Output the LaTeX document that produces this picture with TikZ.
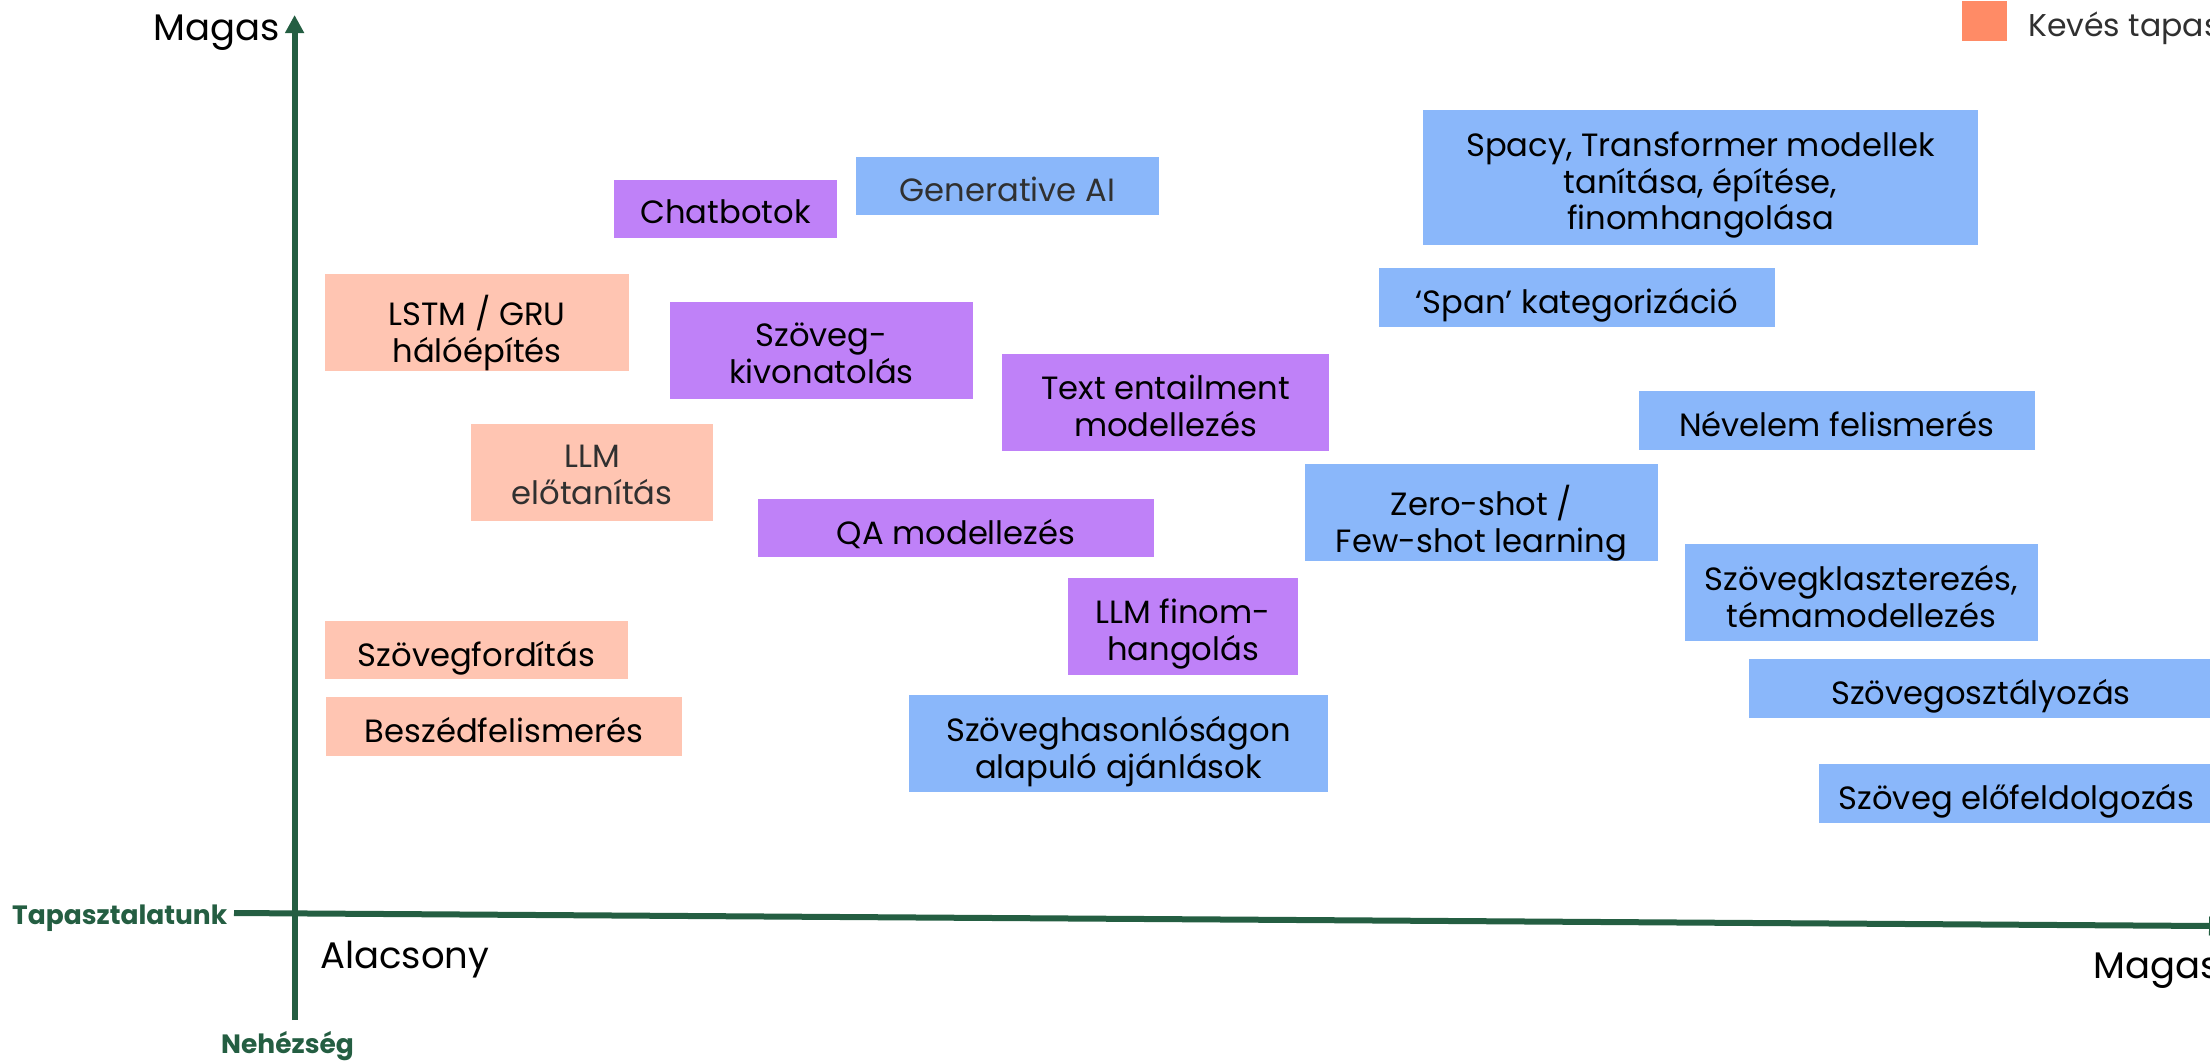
\documentclass[tikz,border=0pt]{standalone}
\usepackage{fontspec}
\setmainfont{Poppins}
\usetikzlibrary{arrows.meta}
\definecolor{cblue}{HTML}{8AB7FA}
\definecolor{cpurple}{HTML}{BF81F8}
\definecolor{csalmon}{HTML}{FFC5B2}
\definecolor{clegend}{HTML}{FF8B66}
\definecolor{cgreen}{HTML}{245E42}
\definecolor{cgray}{HTML}{303030}
\newcommand\boxtxt[2]{\setbox0=\vbox{\baselineskip=36.7pt\lineskiplimit=-100pt\lineskip=0pt\halign{\hfil##\hfil\cr#2\crcr}}\ht0=\dimexpr 36.7pt*\numexpr#1-1\relax+18pt\relax\dp0=0pt\box0}
\tikzset{
  card/.style={inner sep=0pt, outer sep=0pt, anchor=north west, text=black,
    font=\fontsize{32.2}{36.7}\selectfont},
  bluecard/.style={card, fill=cblue},
  purplecard/.style={card, fill=cpurple},
  salmoncard/.style={card, fill=csalmon},
  axislabel/.style={inner sep=0pt, text=black, font=\fontsize{37}{40}\selectfont},
  axisname/.style={inner sep=0pt, text=cgreen, font=\fontsize{26.5}{30}\selectfont\bfseries},
  axisline/.style={cgreen, line width=6pt, -{Triangle[width=18pt,length=18pt]}}
}
\begin{document}
\begin{tikzpicture}[x=1pt,y=-1pt]
\useasboundingbox (0,0) rectangle (2210,1061);
\clip (0,0) rectangle (2210,1061);
% axes
\coordinate (vbot) at (294.6,1020);
\coordinate (vtop) at (294.6,15);
\coordinate (hl) at (234,913);
\coordinate (hr) at (2227,926.1);
\draw[axisline] (vbot) -- (vtop);
\draw[axisline] (hl) -- (hr);
\node[axislabel, anchor=base east] (ytop) at (280,40) {Magas};
\node[axislabel, anchor=base west] (xlow) at (320,968) {Alacsony};
\node[axislabel, anchor=base west] (xhigh) at (2093,978) {Magas};
\node[axisname, anchor=base west] (xname) at (12,924) {Tapasztalatunk};
\node[axisname, anchor=base west] (yname) at (221,1053) {Nehézség};
% legend
\node[fill=clegend, inner sep=0pt, minimum width=45pt, minimum height=40pt, anchor=north west] (legsq) at (1962,1) {};
\node[inner sep=0pt, anchor=base west, text=cgray, font=\fontsize{31.5}{36}\selectfont] (legtxt) at (2028,36) {Kevés tapas};
% salmon
\node[salmoncard, minimum width=304pt, minimum height=97pt] (lstm) at (325,274) {\boxtxt{2}{LSTM / GRU\cr hálóépítés}};
\node[salmoncard, minimum width=242pt, minimum height=97pt, text=cgray] (llmpre) at (471,424) {\boxtxt{2}{LLM\cr előtanítás}};
\node[salmoncard, minimum width=303pt, minimum height=58pt] (ford) at (325,621) {\boxtxt{1}{Szövegfordítás}};
\node[salmoncard, minimum width=356pt, minimum height=59pt] (besz) at (326,697) {\boxtxt{1}{Beszédfelismerés}};
% purple
\node[purplecard, minimum width=223pt, minimum height=58pt] (chat) at (614,180) {\boxtxt{1}{Chatbotok}};
\node[purplecard, minimum width=303pt, minimum height=97pt] (kivon) at (670,302) {\boxtxt{2}{Szöveg-\cr kivonatolás}};
\node[purplecard, minimum width=327pt, minimum height=97pt] (entail) at (1002,354) {\boxtxt{2}{Text entailment\cr modellezés}};
\node[purplecard, minimum width=396pt, minimum height=58pt] (qa) at (758,499) {\boxtxt{1}{QA modellezés}};
\node[purplecard, minimum width=230pt, minimum height=97pt] (finom) at (1068,578) {\boxtxt{2}{LLM finom-\cr hangolás}};
% blue
\node[bluecard, minimum width=303pt, minimum height=58pt, text=cgray] (genai) at (856,157) {\boxtxt{1}{Generative AI}};
\node[bluecard, minimum width=555pt, minimum height=135pt] (spacy) at (1423,110) {\boxtxt{3}{Spacy, Transformer modellek\cr tanítása, építése,\cr finomhangolása}};
\node[bluecard, minimum width=396pt, minimum height=59pt] (span) at (1379,268) {\boxtxt{1}{‘Span’ kategorizáció}};
\node[bluecard, minimum width=396pt, minimum height=59pt] (nevelem) at (1639,391) {\boxtxt{1}{Névelem felismerés}};
\node[bluecard, minimum width=353pt, minimum height=97pt] (zero) at (1305,464) {\boxtxt{2}{Zero-shot /\cr Few-shot learning}};
\node[bluecard, minimum width=353pt, minimum height=97pt] (klaszt) at (1685,544) {\boxtxt{2}{Szövegklaszterezés,\cr témamodellezés}};
\node[bluecard, minimum width=464pt, minimum height=59pt] (osztaly) at (1749,659) {\boxtxt{1}{Szövegosztályozás}};
\node[bluecard, minimum width=395pt, minimum height=59pt] (elofeld) at (1819,764) {\boxtxt{1}{Szöveg előfeldolgozás}};
\node[bluecard, minimum width=419pt, minimum height=97pt] (hason) at (909,695) {\boxtxt{2}{Szöveghasonlóságon\cr alapuló ajánlások}};
\end{tikzpicture}
\end{document}
